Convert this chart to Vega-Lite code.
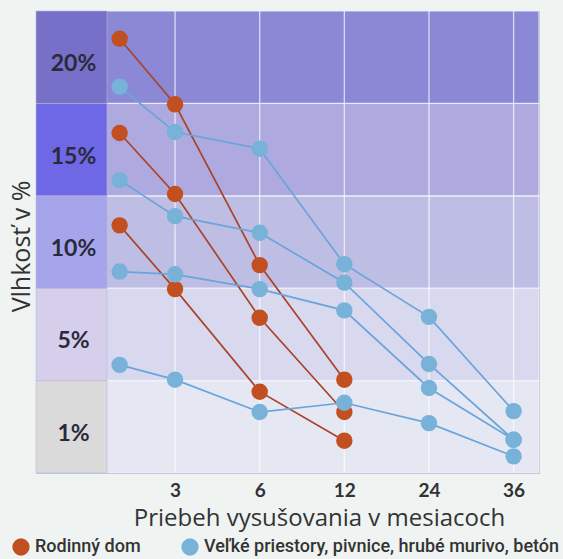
{
  "$schema": "https://vega.github.io/schema/vega-lite/v6.json",
  "autosize": "none",
  "width": 503,
  "height": 462,
  "padding": {"left": 36, "top": 11, "right": 24, "bottom": 86},
  "background": "#eff3f2",
  "view": {"stroke": "#a9a8c4", "strokeWidth": 1},
  "datasets": {
    "bands": [
      {"label": "1%", "lo": 0, "hi": 1, "mid": 0.5},
      {"label": "5%", "lo": 1, "hi": 2, "mid": 1.5},
      {"label": "10%", "lo": 2, "hi": 3, "mid": 2.5},
      {"label": "15%", "lo": 3, "hi": 4, "mid": 3.5},
      {"label": "20%", "lo": 4, "hi": 5, "mid": 4.5}
    ],
    "grid": [{"t": 1}, {"t": 2}, {"t": 3}, {"t": 4}, {"t": 5}],
    "pts": [
      {"series": "R1", "typ": "Rodinný dom", "t": 0.345, "level": 4.70},
      {"series": "R1", "typ": "Rodinný dom", "t": 1, "level": 3.99},
      {"series": "R1", "typ": "Rodinný dom", "t": 2, "level": 2.25},
      {"series": "R1", "typ": "Rodinný dom", "t": 3, "level": 1.01},
      {"series": "R2", "typ": "Rodinný dom", "t": 0.345, "level": 3.68},
      {"series": "R2", "typ": "Rodinný dom", "t": 1, "level": 3.02},
      {"series": "R2", "typ": "Rodinný dom", "t": 2, "level": 1.68},
      {"series": "R2", "typ": "Rodinný dom", "t": 3, "level": 0.66},
      {"series": "R3", "typ": "Rodinný dom", "t": 0.345, "level": 2.68},
      {"series": "R3", "typ": "Rodinný dom", "t": 1, "level": 1.99},
      {"series": "R3", "typ": "Rodinný dom", "t": 2, "level": 0.88},
      {"series": "R3", "typ": "Rodinný dom", "t": 3, "level": 0.35},
      {"series": "B1", "typ": "Veľké priestory, pivnice, hrubé murivo, betón", "t": 0.345, "level": 4.18},
      {"series": "B1", "typ": "Veľké priestory, pivnice, hrubé murivo, betón", "t": 1, "level": 3.69},
      {"series": "B1", "typ": "Veľké priestory, pivnice, hrubé murivo, betón", "t": 2, "level": 3.51},
      {"series": "B1", "typ": "Veľké priestory, pivnice, hrubé murivo, betón", "t": 3, "level": 2.26},
      {"series": "B1", "typ": "Veľké priestory, pivnice, hrubé murivo, betón", "t": 4, "level": 1.69},
      {"series": "B1", "typ": "Veľké priestory, pivnice, hrubé murivo, betón", "t": 5, "level": 0.67},
      {"series": "B2", "typ": "Veľké priestory, pivnice, hrubé murivo, betón", "t": 0.345, "level": 3.17},
      {"series": "B2", "typ": "Veľké priestory, pivnice, hrubé murivo, betón", "t": 1, "level": 2.78},
      {"series": "B2", "typ": "Veľké priestory, pivnice, hrubé murivo, betón", "t": 2, "level": 2.60},
      {"series": "B2", "typ": "Veľké priestory, pivnice, hrubé murivo, betón", "t": 3, "level": 2.06},
      {"series": "B2", "typ": "Veľké priestory, pivnice, hrubé murivo, betón", "t": 4, "level": 1.18},
      {"series": "B2", "typ": "Veľké priestory, pivnice, hrubé murivo, betón", "t": 5, "level": 0.36},
      {"series": "B3", "typ": "Veľké priestory, pivnice, hrubé murivo, betón", "t": 0.345, "level": 2.18},
      {"series": "B3", "typ": "Veľké priestory, pivnice, hrubé murivo, betón", "t": 1, "level": 2.15},
      {"series": "B3", "typ": "Veľké priestory, pivnice, hrubé murivo, betón", "t": 2, "level": 1.99},
      {"series": "B3", "typ": "Veľké priestory, pivnice, hrubé murivo, betón", "t": 3, "level": 1.76},
      {"series": "B3", "typ": "Veľké priestory, pivnice, hrubé murivo, betón", "t": 4, "level": 0.92},
      {"series": "B3", "typ": "Veľké priestory, pivnice, hrubé murivo, betón", "t": 5, "level": 0.36},
      {"series": "B4", "typ": "Veľké priestory, pivnice, hrubé murivo, betón", "t": 0.345, "level": 1.17},
      {"series": "B4", "typ": "Veľké priestory, pivnice, hrubé murivo, betón", "t": 1, "level": 1.01},
      {"series": "B4", "typ": "Veľké priestory, pivnice, hrubé murivo, betón", "t": 2, "level": 0.66},
      {"series": "B4", "typ": "Veľké priestory, pivnice, hrubé murivo, betón", "t": 3, "level": 0.76},
      {"series": "B4", "typ": "Veľké priestory, pivnice, hrubé murivo, betón", "t": 4, "level": 0.54},
      {"series": "B4", "typ": "Veľké priestory, pivnice, hrubé murivo, betón", "t": 5, "level": 0.18}
    ]
  },
  "resolve": {"scale": {"fill": "independent", "stroke": "independent"}, "legend": {"fill": "independent"}},
  "layer": [
    {
      "data": {"name": "bands"},
      "mark": {"type": "rect", "stroke": "#f4f4fb", "strokeWidth": 1.2, "strokeOpacity": 0.8},
      "encoding": {
        "y": {"field": "lo", "type": "quantitative", "scale": {"domain": [0, 5], "nice": false, "zero": false},
          "axis": {"title": "Vlhkosť v %", "labels": false, "ticks": false, "domain": false, "grid": false,
            "titleFont": "Open Sans", "titleFontSize": 25, "titleFontWeight": "normal", "titleColor": "#333333",
            "titleX": -15, "titleY": 235, "titleBaseline": "middle", "titleAlign": "center", "titleAngle": -90}},
        "y2": {"field": "hi"},
        "fill": {"field": "label", "type": "nominal", "legend": null,
          "scale": {"domain": ["1%", "5%", "10%", "15%", "20%"], "range": ["#e5e8f3", "#d8d9ee", "#bebde4", "#aeaadf", "#8b88d6"]}}
      }
    },
    {
      "data": {"name": "bands"},
      "mark": {"type": "rect", "stroke": "#b9b6d8", "strokeWidth": 0.6},
      "encoding": {
        "x": {"datum": -0.643, "type": "quantitative", "scale": {"domain": [-0.643, 5.3], "nice": false, "zero": false},
          "axis": {"title": "Priebeh vysušovania v mesiacoch", "values": [1, 2, 3, 4, 5],
            "labelExpr": "datum.value == 1 ? '3' : datum.value == 2 ? '6' : datum.value == 3 ? '12' : datum.value == 4 ? '24' : '36'",
            "ticks": false, "domain": false, "grid": false, "labelFont": "Lato", "labelFontSize": 19, "labelFontWeight": "bold", "labelColor": "#333333",
            "labelPadding": 8, "titleFont": "Open Sans", "titleFontSize": 24, "titleFontWeight": "normal", "titleColor": "#333333",
            "titleX": 283, "titleY": 45, "titleBaseline": "middle", "titleAlign": "center"}},
        "x2": {"datum": 0.196},
        "y": {"field": "lo", "type": "quantitative"},
        "y2": {"field": "hi"},
        "fill": {"field": "label", "type": "nominal", "legend": null,
          "scale": {"domain": ["1%", "5%", "10%", "15%", "20%"], "range": ["#dadada", "#d5cfec", "#a6a4ea", "#6e68e6", "#7670c8"]}}
      }
    },
    {
      "data": {"name": "bands"},
      "mark": {"type": "text", "font": "Lato", "fontSize": 23, "fontWeight": "bold", "color": "#2a2a3a", "baseline": "middle", "align": "center", "dy": 7},
      "encoding": {
        "x": {"datum": -0.2, "type": "quantitative"},
        "y": {"field": "mid", "type": "quantitative"},
        "text": {"field": "label"}
      }
    },
    {
      "data": {"name": "grid"},
      "mark": {"type": "rule", "color": "#ffffff", "strokeWidth": 1.3, "opacity": 0.7},
      "encoding": {"x": {"field": "t", "type": "quantitative"}}
    },
    {
      "data": {"name": "pts"},
      "mark": {"type": "line", "strokeWidth": 1.7},
      "encoding": {
        "x": {"field": "t", "type": "quantitative"},
        "y": {"field": "level", "type": "quantitative"},
        "detail": {"field": "series"},
        "stroke": {"field": "typ", "type": "nominal", "legend": null,
          "scale": {"domain": ["Rodinný dom", "Veľké priestory, pivnice, hrubé murivo, betón"], "range": ["#a9432a", "#6aa4dc"]}}
      }
    },
    {
      "data": {"name": "pts"},
      "mark": {"type": "circle", "size": 270, "opacity": 1},
      "encoding": {
        "x": {"field": "t", "type": "quantitative"},
        "y": {"field": "level", "type": "quantitative"},
        "fill": {"field": "typ", "type": "nominal",
          "scale": {"domain": ["Rodinný dom", "Veľké priestory, pivnice, hrubé murivo, betón"], "range": ["#c24f20", "#78b2d8"]},
          "legend": {"title": null, "orient": "none", "legendX": -24, "legendY": 527, "direction": "horizontal",
            "symbolType": "circle", "symbolSize": 300, "symbolStrokeWidth": 0, "labelFont": "Roboto", "labelFontSize": 18,
            "labelFontWeight": 500, "labelColor": "#333333", "labelOffset": 5, "columnPadding": 40, "padding": 0, "labelLimit": 0}}
      }
    }
  ]
}
